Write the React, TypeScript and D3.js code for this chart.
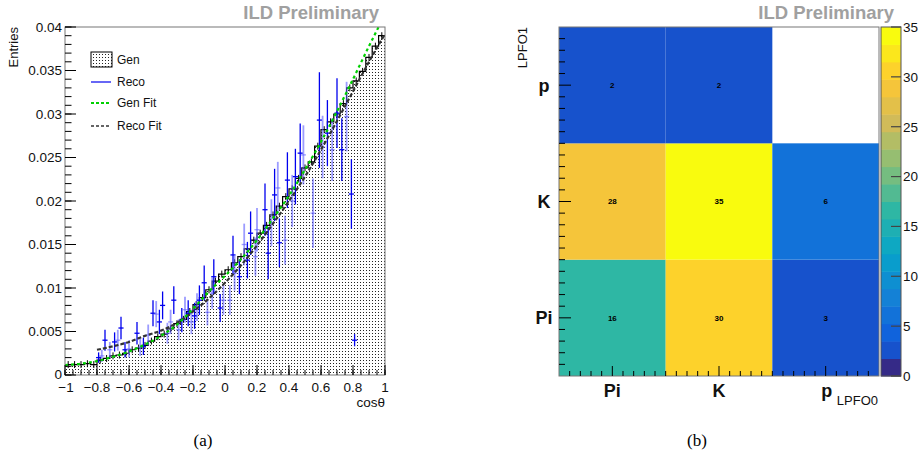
import React from "react";
import * as d3 from "d3";

// ---- (a) cos(theta) distribution ----
// Gen histogram, 50 bins from -1 to 1
const genBins = [
  0.0012, 0.0012, 0.0012, 0.0013, 0.0012, 0.0017, 0.0019, 0.0022, 0.0023, 0.0025,
  0.0029, 0.0031, 0.0034, 0.0039, 0.0044, 0.0047, 0.0053, 0.0059, 0.0064, 0.0073,
  0.0081, 0.0089, 0.0098, 0.0108, 0.0116, 0.0121, 0.0129, 0.0136, 0.0145, 0.0155,
  0.0163, 0.0172, 0.0184, 0.0194, 0.0205, 0.0214, 0.0226, 0.0238, 0.0245, 0.0263,
  0.0282, 0.0291, 0.03, 0.0312, 0.033, 0.0338, 0.0349, 0.0365, 0.0378, 0.039,
];
const genErr = 0.0004;

const genFitX = [-1, -0.9, -0.8, -0.7, -0.6, -0.5, -0.4, -0.3, -0.2, -0.1, 0, 0.1, 0.2, 0.3, 0.4, 0.5, 0.6, 0.7, 0.8, 0.9, 0.96];
const genFitY = [0.00115, 0.0013, 0.0016, 0.0021, 0.0027, 0.0035, 0.0045, 0.0058, 0.0076, 0.0096, 0.0114, 0.0133, 0.0155, 0.018, 0.0206, 0.0236, 0.0268, 0.0303, 0.034, 0.0378, 0.04];

const recoFitX = [-0.8, -0.7, -0.6, -0.5, -0.4, -0.3, -0.2, -0.1, 0, 0.1, 0.2, 0.3, 0.4, 0.5, 0.6, 0.7, 0.8, 0.9, 1.0];
const recoFitY = [0.0029, 0.0033, 0.0038, 0.0045, 0.0051, 0.006, 0.0073, 0.0088, 0.0106, 0.0126, 0.0149, 0.0174, 0.02, 0.0228, 0.0259, 0.0292, 0.0326, 0.036, 0.0392];

// Reco points: x, value, error, light marker
const recoX = [
  -0.79, -0.77, -0.75, -0.72, -0.69, -0.67, -0.65, -0.625, -0.6, -0.55, -0.53, -0.51, -0.48, -0.45, -0.43, -0.41,
  -0.39, -0.36, -0.34, -0.32, -0.29, -0.27, -0.25, -0.23, -0.21, -0.19, -0.175, -0.16, -0.13, -0.11, -0.08, -0.07,
  -0.03, -0.01, 0.03, 0.05, 0.06, 0.09, 0.12, 0.14, 0.16, 0.19, 0.2, 0.25, 0.27, 0.29, 0.31, 0.33,
  0.34, 0.375, 0.39, 0.42, 0.44, 0.47, 0.49, 0.55, 0.59, 0.61, 0.64, 0.67, 0.7, 0.73, 0.76, 0.79, 0.81,
];
const recoY = [
  0.002, 0.0022, 0.004, 0.0029, 0.0038, 0.004, 0.0054, 0.0029, 0.003, 0.0048, 0.0032, 0.0033, 0.0046, 0.0071, 0.007, 0.0061,
  0.008, 0.0048, 0.0061, 0.0086, 0.0052, 0.0063, 0.0075, 0.0071, 0.0061, 0.0068, 0.0078, 0.0086, 0.0106, 0.0072, 0.0094, 0.0113,
  0.0077, 0.0086, 0.0086, 0.0138, 0.0117, 0.0113, 0.015, 0.0132, 0.0163, 0.0136, 0.0167, 0.019, 0.014, 0.0175, 0.0207, 0.0215,
  0.0152, 0.0155, 0.0224, 0.02, 0.0228, 0.0255, 0.0253, 0.0186, 0.0293, 0.0262, 0.0278, 0.0259, 0.0301, 0.0259, 0.0297, 0.0208, 0.004,
];
const recoErr = [
  0.0006, 0.0007, 0.0012, 0.0009, 0.0011, 0.0012, 0.0013, 0.0009, 0.001, 0.0013, 0.001, 0.001, 0.0012, 0.0015, 0.0015, 0.0014,
  0.0016, 0.0012, 0.0014, 0.0016, 0.0012, 0.0014, 0.0015, 0.0015, 0.0014, 0.0015, 0.0016, 0.0017, 0.002, 0.0015, 0.0018, 0.002,
  0.0016, 0.0017, 0.0017, 0.0022, 0.002, 0.002, 0.0024, 0.0021, 0.0025, 0.0022, 0.0025, 0.003, 0.003, 0.0027, 0.003, 0.003,
  0.0028, 0.0028, 0.0032, 0.003, 0.0032, 0.0034, 0.0034, 0.004, 0.0055, 0.0036, 0.0038, 0.0036, 0.004, 0.0036, 0.004, 0.004, 0.0007,
];
const recoLight = [
  0, 1, 0, 1, 0, 1, 0, 0, 1, 0, 1, 0, 1, 0, 1, 0,
  0, 1, 1, 0, 1, 0, 1, 0, 1, 0, 1, 0, 0, 1, 1, 0,
  0, 1, 1, 0, 1, 0, 1, 0, 0, 1, 1, 0, 0, 1, 0, 1,
  0, 1, 0, 1, 0, 0, 1, 1, 0, 1, 0, 1, 0, 0, 1, 0, 0,
];

// ---- (b) LPFO0 vs LPFO1 ----
const pid = ["Pi", "K", "p"];
const countsPi = [16, 30, 3]; // LPFO1 = Pi, columns LPFO0 = Pi, K, p
const countsK = [28, 35, 6];
const countsP = [2, 2, 0];
const zTicks = [0, 5, 10, 15, 20, 25, 30, 35];
const zMax = 35;
const nBands = 20;

const birdStops = [0, 0.125, 0.25, 0.375, 0.5, 0.625, 0.75, 0.875, 1];
const birdColors = ["#352a87", "#0f5cdd", "#1481d6", "#06a4ca", "#2eb7a4", "#87bf77", "#d1bb59", "#fec832", "#f9fb0e"];
const bird = d3.scaleLinear<string>().domain(birdStops).range(birdColors).interpolate(d3.interpolateRgb);
const bandColor = (b: number) => bird(b === 0 ? 0 : (b + 1) / nBands);
const valueColor = (v: number) => bandColor(Math.min(nBands - 1, Math.floor(v / (zMax / nBands))));

const sans = "'Liberation Sans', Arial, Helvetica, sans-serif";

function LeftPlot() {
  const x = d3.scaleLinear().domain([-1, 1]).range([65, 385]);
  const y = d3.scaleLinear().domain([0, 0.04]).range([375, 27]);
  const bw = 2 / genBins.length;
  const edges = d3.range(genBins.length + 1).map((i) => ({ x: -1 + i * bw, v: genBins[Math.min(i, genBins.length - 1)] }));
  const area = d3.area<{ x: number; v: number }>().x((d) => x(d.x)).y0(y(0)).y1((d) => y(d.v)).curve(d3.curveStepAfter);
  const step = d3.line<{ x: number; v: number }>().x((d) => x(d.x)).y((d) => y(d.v)).curve(d3.curveStepAfter);
  const genFit = d3.line<number>().curve(d3.curveMonotoneX).x((_, i) => x(genFitX[i])).y((d) => y(d))(genFitY) || "";
  const recoFit = d3.line<number>().curve(d3.curveMonotoneX).x((_, i) => x(recoFitX[i])).y((d) => y(d))(recoFitY) || "";
  const yMajor = d3.range(0, 0.0401, 0.005);
  const yMinor = d3.range(0, 0.0401, 0.001);
  const xMajor = d3.range(-1, 1.001, 0.2);
  const xMinor = d3.range(-1, 1.001, 0.05);
  const fmtY = (v: number) => (Math.abs(v) < 1e-9 ? "0" : String(+v.toFixed(3)));
  const fmtX = (v: number) => {
    const r = +v.toFixed(1);
    return r === 0 ? "0" : (r < 0 ? "\u2212" : "") + String(Math.abs(r));
  };
  return (
    <g>
      <defs>
        <pattern id="dots" width={3} height={3} patternUnits="userSpaceOnUse">
          <rect width={3} height={3} fill="#fff" />
          <rect x={0} y={0} width={1} height={1} fill="#222" />
        </pattern>
        <clipPath id="clipA">
          <rect x={65} y={27} width={320} height={348} />
        </clipPath>
      </defs>
      <g clipPath="url(#clipA)">
        <path d={area(edges) || ""} fill="url(#dots)" />
        <path d={step(edges) || ""} fill="none" stroke="#000" strokeWidth={1.2} />
        {genBins.map((v, i) => (
          <line key={"ge" + i} x1={x(-1 + (i + 0.5) * bw)} x2={x(-1 + (i + 0.5) * bw)} y1={y(v - genErr)} y2={y(v + genErr)} stroke="#000" strokeWidth={1} />
        ))}
        {recoX.map((rx, i) => {
          const c = recoLight[i] ? "rgba(90,90,255,0.6)" : "#0000ee";
          return (
            <g key={"r" + i}>
              <line x1={x(rx)} x2={x(rx)} y1={y(recoY[i] - recoErr[i])} y2={y(recoY[i] + recoErr[i])} stroke={c} strokeWidth={recoLight[i] ? 1.8 : 1.3} />
              <line x1={x(rx - 0.016)} x2={x(rx + 0.016)} y1={y(recoY[i])} y2={y(recoY[i])} stroke={c} strokeWidth={1.3} />
            </g>
          );
        })}
        <path d={recoFit} fill="none" stroke="#333" strokeWidth={2.2} strokeDasharray="4,2" />
        <path d={genFit} fill="none" stroke="#00d000" strokeWidth={2.2} strokeDasharray="3,3" />
      </g>
      <rect x={65} y={27} width={320} height={348} fill="none" stroke="#777" strokeWidth={1} />
      {yMinor.map((v, i) => (
        <line key={"ym" + i} x1={65} x2={71.5} y1={y(v)} y2={y(v)} stroke="#000" />
      ))}
      {yMajor.map((v, i) => (
        <g key={"yM" + i}>
          <line x1={65} x2={76} y1={y(v)} y2={y(v)} stroke="#000" />
          <text x={62} y={y(v) - (i === 0 ? 1 : 0)} dy="0.36em" textAnchor="end" fontFamily={sans} fontSize={13.5} fill="#111">
            {fmtY(v)}
          </text>
        </g>
      ))}
      {xMinor.map((v, i) => (
        <line key={"xm" + i} x1={x(v)} x2={x(v)} y1={375} y2={370} stroke="#000" />
      ))}
      {xMajor.map((v, i) => (
        <g key={"xM" + i}>
          <line x1={x(v)} x2={x(v)} y1={375} y2={365} stroke="#000" />
          <text x={x(v) + (i === 0 ? 1 : 0)} y={392} textAnchor="middle" fontFamily={sans} fontSize={13.5} fill="#111">
            {fmtX(v)}
          </text>
        </g>
      ))}
      <text x={385} y={407} textAnchor="end" fontFamily={sans} fontSize={13.5} fill="#111">cosθ</text>
      <text transform="translate(18,27) rotate(-90)" textAnchor="end" fontFamily={sans} fontSize={13} fill="#111">Entries</text>
      <text x={379} y={19} textAnchor="end" fontFamily={sans} fontWeight="bold" fontSize={18.5} fill="#a0a0a0">ILD Preliminary</text>
      {/* legend */}
      <rect x={91} y={52} width={21} height={15} fill="url(#dots)" stroke="#000" strokeWidth={1} />
      <text x={117} y={60} dy="0.36em" fontFamily={sans} fontSize={12} fill="#111">Gen</text>
      <line x1={91} x2={111} y1={82} y2={82} stroke="#0000ee" strokeWidth={1.2} />
      <text x={117} y={82} dy="0.36em" fontFamily={sans} fontSize={12} fill="#111">Reco</text>
      <line x1={91} x2={111} y1={103} y2={103} stroke="#00d000" strokeWidth={2} strokeDasharray="3,2" />
      <text x={117} y={103} dy="0.36em" fontFamily={sans} fontSize={12} fill="#111">Gen Fit</text>
      <line x1={91} x2={111} y1={126} y2={126} stroke="#333" strokeWidth={1.5} strokeDasharray="3,2" />
      <text x={117} y={126} dy="0.36em" fontFamily={sans} fontSize={12} fill="#111">Reco Fit</text>
    </g>
  );
}

function RightPlot() {
  const xb = d3.scaleBand().domain(pid).range([559, 879]);
  const yb = d3.scaleBand().domain(pid).range([376, 27]);
  const xl = d3.scaleLinear().domain([0, 3]).range([559, 879]);
  const yl = d3.scaleLinear().domain([0, 3]).range([376, 27]);
  const z = d3.scaleLinear().domain([0, zMax]).range([376, 27]);
  const rows = [countsPi, countsK, countsP];
  const ticks = d3.range(1, 30).map((i) => i / 10);
  const bandStep = zMax / nBands;
  return (
    <g>
      {rows.map((row, j) =>
        row.map((v, i) =>
          v > 0 ? (
            <g key={"c" + i + "_" + j}>
              <rect x={xb(pid[i])} y={yb(pid[j])} width={xb.bandwidth()} height={yb.bandwidth()} fill={valueColor(v)} />
              <text x={(xb(pid[i]) || 0) + xb.bandwidth() / 2} y={(yb(pid[j]) || 0) + yb.bandwidth() / 2} dy="0.36em" textAnchor="middle" fontFamily={sans} fontWeight="bold" fontSize={8} fill="#000">
                {v}
              </text>
            </g>
          ) : null
        )
      )}
      <rect x={559} y={27} width={320} height={349} fill="none" stroke="#777" strokeWidth={1} />
      {ticks.map((t, i) => {
        const major = Math.abs((t * 10) % 10 - 5) < 0.01;
        return (
          <g key={"t" + i}>
            <line x1={559} x2={559 + (major ? 12 : 6)} y1={yl(t)} y2={yl(t)} stroke="#000" />
            <line x1={xl(t)} x2={xl(t)} y1={376} y2={376 - (major ? 10 : 5)} stroke="#000" />
          </g>
        );
      })}
      {pid.map((p) => (
        <g key={"l" + p}>
          <text x={544} y={(yb(p) || 0) + yb.bandwidth() / 2} dy="0.36em" textAnchor="middle" fontFamily={sans} fontWeight="bold" fontSize={18} fill="#111">
            {p}
          </text>
          <text x={(xb(p) || 0) + xb.bandwidth() / 2 + (p === "p" ? 1 : 0)} y={397} textAnchor="middle" fontFamily={sans} fontWeight="bold" fontSize={18} fill="#111">
            {p}
          </text>
        </g>
      ))}
      <text x={878} y={405} textAnchor="end" fontFamily={sans} fontSize={13} fill="#111">LPFO0</text>
      <text transform="translate(527,27) rotate(-90)" textAnchor="end" fontFamily={sans} fontSize={13} fill="#111">LPFO1</text>
      {/* colour scale */}
      {d3.range(nBands).map((b) => (
        <rect key={"b" + b} x={881} y={z((b + 1) * bandStep)} width={20} height={z(b * bandStep) - z((b + 1) * bandStep) + 0.5} fill={bandColor(b)} />
      ))}
      <rect x={881} y={27} width={20} height={349} fill="none" stroke="#555" strokeWidth={1} />
      {zTicks.map((t) => (
        <g key={"z" + t}>
          <line x1={901} x2={891} y1={z(t)} y2={z(t)} stroke="#444" strokeWidth={1.2} />
          <text x={903} y={z(t)} dy="0.36em" fontFamily={sans} fontSize={13.5} fill="#111">
            {t}
          </text>
        </g>
      ))}
      <text x={894} y={19} textAnchor="end" fontFamily={sans} fontWeight="bold" fontSize={18.5} fill="#a0a0a0">ILD Preliminary</text>
    </g>
  );
}

export default function App() {
  return (
    <svg width={921} height={459} style={{ position: "absolute", left: 0, top: 0, background: "#fff" }}>
      <rect width={921} height={459} fill="#fff" />
      <LeftPlot />
      <RightPlot />
      <text x={203} y={446} textAnchor="middle" fontFamily="'Liberation Serif', 'Times New Roman', serif" fontSize={17} fill="#000">(a)</text>
      <text x={697} y={446} textAnchor="middle" fontFamily="'Liberation Serif', 'Times New Roman', serif" fontSize={17} fill="#000">(b)</text>
    </svg>
  );
}
